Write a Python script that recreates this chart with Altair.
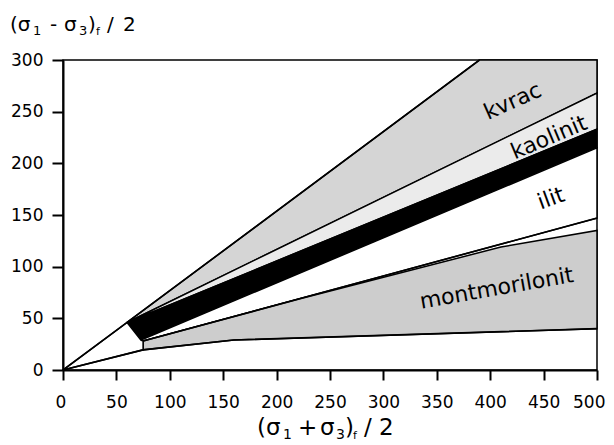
import altair as alt
import pandas as pd

# ---- data ----
kvrac_x = [60, 390, 500, 500]
kvrac_y = [46, 300, 300, 268]
kaolinit_x = [60, 500, 500]
kaolinit_y = [46, 268, 233]
band_x = [60, 500, 500, 73]
band_y = [46, 233, 215, 29]
ilit_x = [73, 500, 500, 75]
ilit_y = [29, 215, 147, 28]
mont_x = [75, 222, 410, 500, 500, 160, 75]
mont_y = [28, 69, 119, 135, 40, 29, 19.5]
wedge_x = [0, 60, 73, 75, 75]
wedge_y = [0, 46, 29, 28, 19.5]
outer_x = [0, 60, 390]
outer_y = [0, 46, 300]
lower_x = [0, 75, 160, 500]
lower_y = [0, 19.5, 29, 40]
ilitlow_x = [75, 500]
ilitlow_y = [28, 147]

label_text = ["kvrac", "kaolinit", "ilit", "montmorilonit"]
label_x = [421, 455, 457, 406]
label_y = [260, 225, 166, 79]

x_ticks = [0, 50, 100, 150, 200, 250, 300, 350, 400, 450, 500]
y_ticks = [0, 50, 100, 150, 200, 250, 300]

# ---- styles / layout ----
FONT = "DejaVu Sans"
label_angle = [336, 337, 340, 350]
PLOT_LEFT, PLOT_TOP = 63, 60  # page position of the plot origin

XS = alt.Scale(domain=[0, 500], nice=False, zero=False)
YS = alt.Scale(domain=[0, 300], nice=False, zero=False)

axis_common = dict(
    grid=False, title=None, labelFont=FONT, labelFontSize=17, labelColor="black",
    tickColor="black", domainColor="black", tickWidth=2, domainWidth=2,
    labelOverlap=False,
)
x_axis = alt.Axis(values=x_ticks, tickSize=10, labelPadding=14,
                  labelFlush=True, labelFlushOffset=8, **axis_common)
y_axis = alt.Axis(values=y_ticks, tickSize=11, labelPadding=9,
                  labelFlush=False, **axis_common)


def enc_xy():
    return dict(
        x=alt.X("x:Q", scale=XS, axis=x_axis),
        y=alt.Y("y:Q", scale=YS, axis=y_axis),
    )


def polygon(xs, ys, fill):
    n = len(xs)
    df = pd.DataFrame({"x": list(xs) + [xs[0]], "y": list(ys) + [ys[0]], "i": list(range(n + 1))})
    return alt.Chart(df).mark_line(
        fill=fill, stroke="black", strokeWidth=1.5, strokeJoin="miter"
    ).encode(order="i:Q", **enc_xy())


def polyline(xs, ys):
    df = pd.DataFrame({"x": xs, "y": ys, "i": list(range(len(xs)))})
    return alt.Chart(df).mark_line(color="black", strokeWidth=1.6).encode(
        order="i:Q", **enc_xy()
    )


labels_df = pd.DataFrame({"t": label_text, "x": label_x, "y": label_y, "a": label_angle})
labels = alt.Chart(labels_df).mark_text(
    font=FONT, fontSize=22, color="black", align="center", baseline="middle"
).encode(
    text="t:N",
    angle=alt.Angle("a:Q", scale=None),
    **enc_xy(),
)

data_layer = alt.layer(
    polygon(kvrac_x, kvrac_y, "#d5d5d5"),
    polygon(kaolinit_x, kaolinit_y, "#ebebeb"),
    polygon(band_x, band_y, "black"),
    polygon(ilit_x, ilit_y, "white"),
    polygon(mont_x, mont_y, "#cdcdcd"),
    polygon(wedge_x, wedge_y, "white"),
    polyline(outer_x, outer_y),
    polyline(lower_x, lower_y),
    polyline(ilitlow_x, ilitlow_y),
    labels,
)

# axis titles with subscripts, built from pieces (page coordinates)
title_pieces = [
    # y title
    ("(σ", 10, 31, 20), ("1", 33, 35, 13), ("-", 50, 31, 20), ("σ", 64, 31, 20),
    ("3", 79, 35, 13), (")", 88, 31, 20), ("f", 96, 35, 11), ("/", 107, 31, 20),
    ("2", 123, 31, 20),
    # x title
    ("(σ", 257, 435, 23), ("1", 283, 439, 14), ("+", 298, 435, 23), ("σ", 320, 435, 23),
    ("3", 336, 439, 14), (")", 345, 435, 23), ("f", 353, 439, 11), ("/", 364, 435, 23),
    ("2", 379, 435, 23),
]
tdf = pd.DataFrame({
    "t": [p[0] for p in title_pieces],
    "px": [p[1] - PLOT_LEFT for p in title_pieces],
    "py": [p[2] - PLOT_TOP for p in title_pieces],
    "fs": [p[3] for p in title_pieces],
})
titles = alt.Chart(tdf).mark_text(
    font=FONT, color="black", align="left", baseline="alphabetic"
).encode(
    x=alt.X("px:Q", scale=None, axis=None),
    y=alt.Y("py:Q", scale=None, axis=None),
    size=alt.Size("fs:Q", scale=None, legend=None),
    text="t:N",
)

chart = alt.layer(data_layer, titles).resolve_scale(
    x="independent", y="independent"
).resolve_axis(
    x="independent", y="independent"
).properties(
    width=534, height=310,
    autosize=alt.AutoSizeParams(type="none"),
    padding={"left": 55, "top": 52, "right": 9, "bottom": 75},
    background="white",
).configure_view(stroke="black", strokeWidth=1.5)

chart.save("out.html", embed_options={"renderer": "svg", "actions": False})
